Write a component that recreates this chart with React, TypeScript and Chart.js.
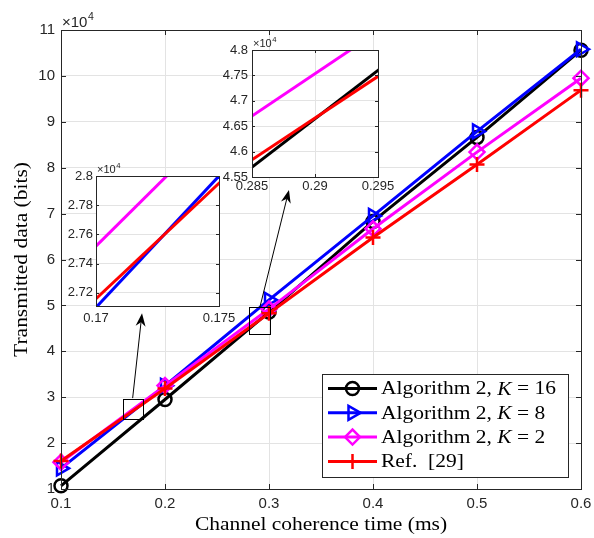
import React, { useEffect, useRef } from 'react';
import { Chart, registerables } from 'chart.js';
import { drawPoint } from 'chart.js/helpers';

Chart.register(...registerables);

// ---------- data ----------
const xValues = [0.1, 0.2, 0.3, 0.4, 0.5, 0.6];
const algK16 = [10700, 29500, 48550, 68300, 86600, 105600];
const algK8 = [14500, 32500, 51200, 69500, 87900, 105800];
const algK2 = [15830, 32530, 49200, 66700, 83400, 99500];
const ref29 = [16100, 31900, 48300, 64800, 80700, 96900];

const seriesLabels = ['Algorithm 2, *K* = 16', 'Algorithm 2, *K* = 8', 'Algorithm 2, *K* = 2', 'Ref.  [29]'];
const seriesColors = ['#000000', '#0000ff', '#ff00ff', '#ff0000'];
const seriesMarkers = ['circle', 'triangle', 'rectRot', 'cross'];
const seriesMarkerRot = [0, 90, 0, 0];
const seriesMarkerRadius = [6.5, 8, 7.5, 7.5];
const seriesValues = [algK16, algK8, algK2, ref29];

const mainXTicks = [0.1, 0.2, 0.3, 0.4, 0.5, 0.6];
const mainYTicks = [10000, 20000, 30000, 40000, 50000, 60000, 70000, 80000, 90000, 100000, 110000];
const inset1XTicks = [0.17, 0.175];
const inset1YTicks = [27200, 27400, 27600, 27800, 28000];
const inset2XTicks = [0.285, 0.29, 0.295];
const inset2YTicks = [45500, 46000, 46500, 47000, 47500, 48000];

const xTitle = 'Channel coherence time (ms)';
const yTitle = 'Transmitted data (bits)';

// zoom boxes and arrows in data units
const zoomBox1 = { x0: 0.16, x1: 0.179, y0: 25200, y1: 29600 };
const zoomBox2 = { x0: 0.281, x1: 0.3015, y0: 43900, y1: 49700 };
const arrow1 = { x0: 0.1689, y0: 29800, x1: 0.1779, y1: 48280 };
const arrow2 = { x0: 0.2913, y0: 49650, x1: 0.3192, y1: 75140 };

// ---------- styles ----------
const SERIF = '"Liberation Serif", "Times New Roman", serif';
const SANS = '"Liberation Sans", Arial, Helvetica, sans-serif';
const GRID = '#e3e3e3';
const AXIS = '#262626';
const STRETCH = 1.13;

const fmt = (v: number) => String(parseFloat(v.toFixed(4)));

function drawRich(ctx: CanvasRenderingContext2D, label: string, x: number, y: number, size: number) {
  const parts = label.split('*');
  let cx = x;
  parts.forEach((p, i) => {
    if (!p) return;
    ctx.font = `${i % 2 === 1 ? 'italic ' : ''}${size}px ${SERIF}`;
    ctx.save();
    ctx.translate(cx, y);
    ctx.scale(STRETCH, 1);
    ctx.fillText(p, 0, 0);
    ctx.restore();
    cx += ctx.measureText(p).width * STRETCH;
  });
}

function drawTimes10(ctx: CanvasRenderingContext2D, x: number, y: number, size: number) {
  ctx.save();
  ctx.fillStyle = AXIS;
  ctx.textAlign = 'left';
  ctx.textBaseline = 'alphabetic';
  ctx.font = `${size}px ${SANS}`;
  ctx.fillText('\u00d7', x, y);
  let cx = x + ctx.measureText('\u00d7').width;
  ctx.fillText('10', cx, y);
  cx += ctx.measureText('10').width + 0.5;
  ctx.font = `${size * 0.7}px ${SANS}`;
  ctx.fillText('4', cx, y - size * 0.45);
  ctx.restore();
}

function makeDatasets(lineWidth: number, withPoints: boolean) {
  return seriesValues.map((vals, i) => ({
    label: seriesLabels[i].replace(/\*/g, ''),
    data: xValues.map((x, j) => ({ x, y: vals[j] })),
    borderColor: seriesColors[i],
    backgroundColor: 'rgba(0,0,0,0)',
    borderWidth: lineWidth,
    pointStyle: seriesMarkers[i],
    pointRotation: seriesMarkerRot[i],
    pointRadius: withPoints ? seriesMarkerRadius[i] : 0,
    pointHoverRadius: 0,
    pointBorderWidth: 2.5,
    pointBorderColor: seriesColors[i],
    pointBackgroundColor: 'rgba(0,0,0,0)',
    tension: 0,
    order: seriesValues.length - i,
    ...(withPoints ? { clip: false } : {}),
  }));
}

const framePlugin = {
  id: 'frame',
  beforeDraw(chart: any, _a: any, o: any) {
    if (!o.fill) return;
    const a = chart.chartArea;
    const ctx = chart.ctx;
    ctx.save();
    ctx.fillStyle = '#ffffff';
    ctx.fillRect(a.left, a.top, a.right - a.left, a.bottom - a.top);
    ctx.restore();
  },
  afterDatasetsDraw(chart: any, _a: any, o: any) {
    const ctx = chart.ctx;
    const a = chart.chartArea;
    const L = o.tick || 5;
    const xs = chart.scales.x;
    const ys = chart.scales.y;
    ctx.save();
    ctx.strokeStyle = AXIS;
    ctx.lineWidth = 1;
    ctx.beginPath();
    xs.ticks.forEach((t: any) => {
      const px = Math.round(xs.getPixelForValue(t.value)) + 0.5;
      ctx.moveTo(px, a.bottom);
      ctx.lineTo(px, a.bottom - L);
      ctx.moveTo(px, a.top);
      ctx.lineTo(px, a.top + L);
    });
    ys.ticks.forEach((t: any) => {
      const py = Math.round(ys.getPixelForValue(t.value)) + 0.5;
      ctx.moveTo(a.left, py);
      ctx.lineTo(a.left + L, py);
      ctx.moveTo(a.right, py);
      ctx.lineTo(a.right - L, py);
    });
    ctx.stroke();
    ctx.strokeRect(Math.round(a.left) + 0.5, Math.round(a.top) + 0.5, Math.round(a.right - a.left), Math.round(a.bottom - a.top));
    ctx.restore();
    if (o.exp) drawTimes10(ctx, a.left + (o.expDx || 0), a.top - (o.expDy || 4), o.exp);
  },
};

function drawArrow(ctx: CanvasRenderingContext2D, x1: number, y1: number, x2: number, y2: number) {
  const ang = Math.atan2(y2 - y1, x2 - x1);
  const L = 13, W = 5, N = 9;
  ctx.beginPath();
  ctx.moveTo(x1, y1);
  ctx.lineTo(x2 - Math.cos(ang) * N, y2 - Math.sin(ang) * N);
  ctx.stroke();
  ctx.save();
  ctx.translate(x2, y2);
  ctx.rotate(ang);
  ctx.beginPath();
  ctx.moveTo(0, 0);
  ctx.lineTo(-L, -W);
  ctx.lineTo(-N, 0);
  ctx.lineTo(-L, W);
  ctx.closePath();
  ctx.fill();
  ctx.restore();
}

const decorPlugin = {
  id: 'decor',
  afterDatasetsDraw(chart: any) {
    const ctx = chart.ctx;
    const xs = chart.scales.x;
    const ys = chart.scales.y;
    ctx.save();
    ctx.strokeStyle = '#000';
    ctx.fillStyle = '#000';
    ctx.lineWidth = 1;
    [zoomBox1, zoomBox2].forEach((b) => {
      const x0 = xs.getPixelForValue(b.x0), x1 = xs.getPixelForValue(b.x1);
      const y0 = ys.getPixelForValue(b.y0), y1 = ys.getPixelForValue(b.y1);
      ctx.strokeRect(Math.round(x0) + 0.5, Math.round(y1) + 0.5, Math.round(x1 - x0), Math.round(y0 - y1));
    });
    [arrow1, arrow2].forEach((ar) => {
      drawArrow(ctx, xs.getPixelForValue(ar.x0), ys.getPixelForValue(ar.y0), xs.getPixelForValue(ar.x1), ys.getPixelForValue(ar.y1));
    });
    ctx.restore();
  },
  afterDraw(chart: any) {
    const ctx = chart.ctx;
    const a = chart.chartArea;
    ctx.save();
    ctx.fillStyle = '#000';
    ctx.textBaseline = 'middle';
    ctx.textAlign = 'center';
    // x title
    ctx.font = `19px ${SERIF}`;
    ctx.save();
    ctx.translate((a.left + a.right) / 2, 525);
    ctx.scale(STRETCH, 1);
    ctx.fillText(xTitle, 0, 0);
    ctx.restore();
    // y title
    ctx.save();
    ctx.translate(22, (a.top + a.bottom) / 2);
    ctx.rotate(-Math.PI / 2);
    ctx.scale(STRETCH, 1);
    ctx.fillText(yTitle, 0, 0);
    ctx.restore();
    // legend
    const w = 246, h = 103;
    const right = a.right - 13, bottom = a.bottom - 12;
    const left = right - w, top = bottom - h;
    ctx.fillStyle = '#fff';
    ctx.fillRect(left, top, w, h);
    ctx.strokeStyle = AXIS;
    ctx.lineWidth = 1;
    ctx.strokeRect(Math.round(left) + 0.5, Math.round(top) + 0.5, w, h);
    seriesLabels.forEach((lab, i) => {
      const y = top + 14.5 + i * 24.3;
      ctx.strokeStyle = seriesColors[i];
      ctx.lineWidth = 3;
      ctx.beginPath();
      ctx.moveTo(left + 6, y);
      ctx.lineTo(left + 55, y);
      ctx.stroke();
      ctx.lineWidth = 2.5;
      ctx.fillStyle = 'rgba(0,0,0,0)';
      drawPoint(ctx, { pointStyle: seriesMarkers[i], rotation: seriesMarkerRot[i], radius: seriesMarkerRadius[i], borderWidth: 2.5 } as any, left + 30.5, y);
      ctx.fillStyle = '#000';
      ctx.textAlign = 'left';
      ctx.textBaseline = 'middle';
      drawRich(ctx, lab, left + 59, y + 1, 19);
    });
    ctx.restore();
  },
};

function scaleX(min: number, max: number, ticksArr: number[], fontSize: number, pad: number, height: number) {
  return {
    type: 'linear',
    min,
    max,
    afterBuildTicks: (s: any) => {
      s.ticks = ticksArr.map((v) => ({ value: v }));
    },
    afterFit: (s: any) => {
      s.height = height;
      s.paddingLeft = 0;
      s.paddingRight = 0;
    },
    grid: { color: GRID, drawTicks: false, lineWidth: 1 },
    border: { display: false },
    ticks: {
      color: AXIS,
      font: { family: SANS, size: fontSize },
      padding: pad,
      maxRotation: 0,
      autoSkip: false,
      callback: (v: number) => fmt(v),
    },
  };
}

function scaleY(min: number, max: number, ticksArr: number[], fontSize: number, pad: number, width: number) {
  return {
    type: 'linear',
    min,
    max,
    afterBuildTicks: (s: any) => {
      s.ticks = ticksArr.map((v) => ({ value: v }));
    },
    afterFit: (s: any) => {
      s.width = width;
      s.paddingTop = 0;
      s.paddingBottom = 0;
    },
    grid: { color: GRID, drawTicks: false, lineWidth: 1 },
    border: { display: false },
    ticks: {
      color: AXIS,
      font: { family: SANS, size: fontSize },
      padding: pad,
      autoSkip: false,
      callback: (v: number) => fmt(v / 10000),
    },
  };
}

function mainConfig(): any {
  return {
    type: 'line',
    data: { datasets: makeDatasets(3, true) },
    options: {
      responsive: false,
      animation: false,
      events: [],
      layout: { padding: { top: 30, right: 13, left: 0, bottom: 0 } },
      scales: {
        x: scaleX(0.1, 0.6, mainXTicks, 15, 6, 49),
        y: scaleY(10000, 110000, mainYTicks, 15, 6, 61),
      },
      plugins: {
        legend: { display: false },
        tooltip: { enabled: false },
        frame: { tick: 5, exp: 15, expDx: 1, expDy: 3 },
      },
    },
    plugins: [decorPlugin, framePlugin],
  };
}

function insetConfig(p: any): any {
  return {
    type: 'line',
    data: { datasets: makeDatasets(3, false) },
    options: {
      responsive: false,
      animation: false,
      events: [],
      layout: { padding: { top: p.padTop, right: p.padRight, left: 0, bottom: 0 } },
      scales: {
        x: scaleX(p.xMin, p.xMax, p.xTicks, 13, p.xPad, p.xHeight),
        y: scaleY(p.yMin, p.yMax, p.yTicks, 13, p.yPad, p.yWidth),
      },
      plugins: {
        legend: { display: false },
        tooltip: { enabled: false },
        frame: { fill: true, tick: 3, exp: 11, expDx: 1, expDy: 3 },
      },
    },
    plugins: [framePlugin],
  };
}

export default function App() {
  const mainRef = useRef<HTMLCanvasElement>(null);
  const in1Ref = useRef<HTMLCanvasElement>(null);
  const in2Ref = useRef<HTMLCanvasElement>(null);

  useEffect(() => {
    const charts = [
      new Chart(mainRef.current as HTMLCanvasElement, mainConfig()),
      new Chart(
        in1Ref.current as HTMLCanvasElement,
        insetConfig({
          xMin: 0.17, xMax: 0.175, xTicks: inset1XTicks,
          yMin: 27110, yMax: 28000, yTicks: inset1YTicks,
          padTop: 18, padRight: 27, xHeight: 24, yWidth: 40, xPad: 5, yPad: 3,
        })
      ),
      new Chart(
        in2Ref.current as HTMLCanvasElement,
        insetConfig({
          xMin: 0.285, xMax: 0.295, xTicks: inset2XTicks,
          yMin: 45500, yMax: 48000, yTicks: inset2YTicks,
          padTop: 20, padRight: 28, xHeight: 21, yWidth: 42, xPad: 2, yPad: 4,
        })
      ),
    ];
    return () => charts.forEach((c) => c.destroy());
  }, []);

  return (
    <div style={{ position: 'fixed', left: 0, top: 0, width: 594, height: 538, background: '#fff' }}>
      <canvas ref={mainRef} width={594} height={538} style={{ position: 'absolute', left: 0, top: 0 }} />
      <canvas ref={in1Ref} width={190} height={172} style={{ position: 'absolute', left: 56, top: 158 }} />
      <canvas ref={in2Ref} width={196} height={168} style={{ position: 'absolute', left: 210, top: 30 }} />
    </div>
  );
}
